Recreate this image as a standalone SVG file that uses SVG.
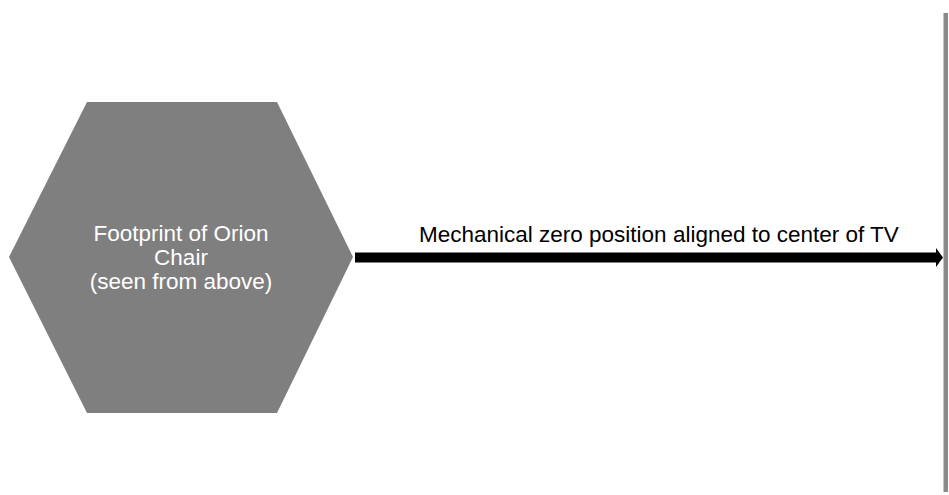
<svg xmlns="http://www.w3.org/2000/svg" width="949" height="495" viewBox="0 0 949 495">
<style>
.lbl{font-family:"Liberation Sans",Arial,sans-serif;font-size:22.5px}
.in{fill:#ffffff;text-anchor:middle}
</style>
<rect width="949" height="495" fill="#ffffff"/>
<g id="tv">
<rect x="943.5" y="13" width="4.5" height="479" fill="#8a8a8a"/>
</g>
<g id="chair">
<polygon points="87,102 277,102 353,257 277,413 87,413 9,257" fill="#7f7f7f"/>
<text class="lbl in" x="181" y="241">Footprint of Orion</text>
<text class="lbl in" x="181" y="265">Chair</text>
<text class="lbl in" x="181" y="289">(seen from above)</text>
</g>
<g id="connectors">
<polygon points="355,252.5 936,252.5 936,248 943,257.5 936,267 936,262.5 355,262.5" fill="#000"/>
<text class="lbl" x="419" y="242" fill="#000">Mechanical zero position aligned to center of TV</text>
</g>
</svg>
